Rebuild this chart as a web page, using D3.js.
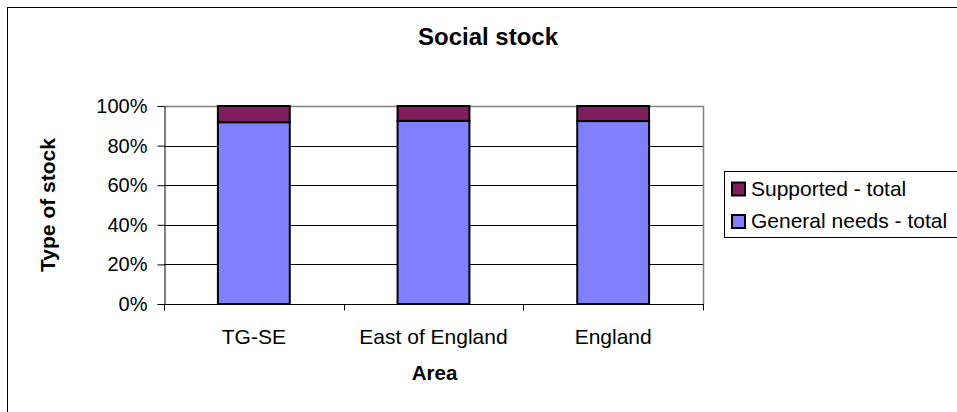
<!DOCTYPE html>
<html><head><meta charset="utf-8">
<script src="https://cdn.jsdelivr.net/npm/d3@7/dist/d3.min.js"></script>
<style>body{margin:0;background:#fff}svg{display:block}text{font-family:Arial,"Liberation Sans",sans-serif}</style>
</head><body><svg id="c" width="957" height="412"></svg>
<script>
const categories = ["TG-SE", "East of England", "England"];
const generalNeeds = [91.8, 92.5, 92.4];
const supported = [8.2, 7.5, 7.6];
const yTicks = [0, 20, 40, 60, 80, 100];
const seriesNames = ["Supported - total", "General needs - total"];
const seriesColors = ["#7f1f5f", "#8080ff"];

const svg = d3.select("#c");
svg.append("rect").attr("x",7.5).attr("y",7.5).attr("width",1000).attr("height",1000)
  .attr("fill","#fff").attr("stroke","#000").attr("stroke-width",1);

const L=164, R=703, T=106, B=304;
const x = d3.scaleBand().domain(categories).range([L,R]).paddingInner(0).paddingOuter(0);
const y = d3.scaleLinear().domain([0,100]).range([B,T]);

// gridlines
svg.append("g").selectAll("line").data(yTicks.filter(d=>d>0&&d<100)).join("line")
  .attr("x1",L).attr("x2",R).attr("y1",d=>Math.round(y(d))+0.5).attr("y2",d=>Math.round(y(d))+0.5)
  .attr("stroke","#000").attr("stroke-width",1);
// plot border top/right gray
svg.append("path").attr("d",`M${L},${T+0.5}H${R+0.5}V${B}`).attr("fill","none").attr("stroke","#808080").attr("stroke-width",1.5);

const stack = categories.map((c,i)=>({c, g:generalNeeds[i], s:supported[i]}));
const bw = x.bandwidth()*0.4;
const bars = svg.append("g");
bars.selectAll("rect.g").data(stack).join("rect").attr("class","g")
  .attr("x",d=>x(d.c)+x.bandwidth()/2-bw/2).attr("width",bw)
  .attr("y",d=>y(d.g)).attr("height",d=>y(0)-y(d.g))
  .attr("fill",seriesColors[1]).attr("stroke","#000").attr("stroke-width",2);
bars.selectAll("rect.s").data(stack).join("rect").attr("class","s")
  .attr("x",d=>x(d.c)+x.bandwidth()/2-bw/2).attr("width",bw)
  .attr("y",d=>y(d.g+d.s)).attr("height",d=>y(d.g)-y(d.g+d.s))
  .attr("fill",seriesColors[0]).attr("stroke","#000").attr("stroke-width",2);

// y axis
const ya = svg.append("g").attr("transform",`translate(${L+0.5},0)`)
  .call(d3.axisLeft(y).tickValues(yTicks).tickFormat(d=>d+"%").tickSize(7).tickSizeOuter(0));
ya.select(".domain").attr("stroke","#000");
ya.selectAll("line").attr("stroke","#000");
ya.selectAll("text").attr("font-size","20px").attr("fill","#000").attr("x",-17).attr("font-family","Arial, 'Liberation Sans', sans-serif");

// x axis
const xa = svg.append("g").attr("transform",`translate(0,${B+0.5})`);
xa.append("line").attr("x1",L).attr("x2",R+1).attr("stroke","#000");
const edges = categories.map(c=>x(c)).concat([R]);
xa.selectAll("line.t").data(edges).join("line").attr("class","t")
  .attr("x1",d=>Math.round(d)+0.5).attr("x2",d=>Math.round(d)+0.5).attr("y1",0).attr("y2",6).attr("stroke","#000");
xa.selectAll("text").data(categories).join("text")
  .attr("x",d=>x(d)+x.bandwidth()/2).attr("y",39).attr("text-anchor","middle")
  .attr("font-size","21px").attr("fill","#000").text(d=>d);

// titles
svg.append("text").attr("x",488).attr("y",45).attr("text-anchor","middle")
  .attr("font-size","24px").attr("font-weight","bold").text("Social stock");
svg.append("text").attr("transform",`translate(55,${(T+B)/2}) rotate(-90)`).attr("text-anchor","middle")
  .attr("font-size","21px").attr("font-weight","bold").text("Type of stock");
svg.append("text").attr("x",434.5).attr("y",380).attr("text-anchor","middle")
  .attr("font-size","20.5px").attr("font-weight","bold").text("Area");

// legend
const lg = svg.append("g");
lg.append("rect").attr("x",724.5).attr("y",171.5).attr("width",300).attr("height",66)
  .attr("fill","#fff").attr("stroke","#000");
seriesNames.forEach((n,i)=>{
  const base = 195.5 + i*32.5;
  lg.append("rect").attr("x",732).attr("y",base-13).attr("width",13).attr("height",13)
    .attr("fill",seriesColors[i]).attr("stroke","#000").attr("stroke-width",2);
  lg.append("text").attr("x",751).attr("y",base).attr("font-size","21px").text(n);
});
</script></body></html>
